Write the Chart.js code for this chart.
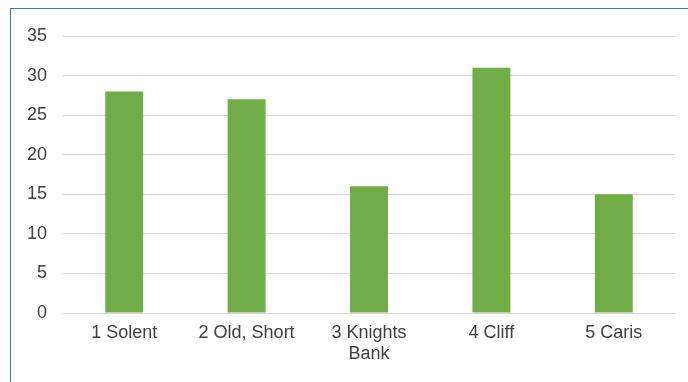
<!DOCTYPE html>
<html>
<head>
<meta charset="utf-8">
<script src="https://cdn.jsdelivr.net/npm/chart.js@4/dist/chart.umd.min.js"></script>
<style>
  html, body { margin: 0; padding: 0; background: #fff; }
  #wrap { position: relative; width: 688px; height: 382px; }
  #frame { position: absolute; left: 10px; top: 8px; right: 0; bottom: 0; border-left: 1px solid #2E7FAF; border-top: 1px solid #2E7FAF; pointer-events: none; }
  canvas { position: absolute; left: 0; top: 0; }
</style>
</head>
<body>
<div id="wrap">
  <canvas id="c" width="688" height="382"></canvas>
  <div id="frame"></div>
</div>
<script>
const categories = ['1 Solent', '2 Old, Short', ['3 Knights', 'Bank'], '4 Cliff', '5 Caris'];
const values = [28, 27, 16, 31, 15];
const yTicks = [0, 5, 10, 15, 20, 25, 30, 35];

const FONT = "'Liberation Sans', Arial, sans-serif";
new Chart(document.getElementById('c'), {
  type: 'bar',
  data: {
    labels: categories,
    datasets: [{
      data: values,
      backgroundColor: '#70AD47',
      borderWidth: 0,
      categoryPercentage: 1,
      barPercentage: 0.31
    }]
  },
  options: {
    responsive: false,
    animation: false,
    layout: { padding: { top: 36, right: 13, bottom: 0, left: 0 } },
    plugins: { legend: { display: false }, tooltip: { enabled: false } },
    scales: {
      x: {
        grid: { display: false, drawTicks: false },
        border: { display: true, color: '#d9d9d9', width: 1 },
        ticks: { color: '#404040', font: { family: FONT, size: 18, lineHeight: 1.2 }, padding: 9, maxRotation: 0, autoSkip: false },
        afterFit: s => { s.height = 69; }
      },
      y: {
        min: 0, max: 35,
        afterBuildTicks: s => { s.ticks = yTicks.map(v => ({ value: v })); },
        grid: { color: '#d9d9d9', lineWidth: 1, drawTicks: false },
        border: { display: false },
        ticks: { color: '#404040', font: { family: FONT, size: 18 }, padding: 16 },
        afterFit: s => { s.width = 63; }
      }
    }
  }
});
</script>
</body>
</html>
